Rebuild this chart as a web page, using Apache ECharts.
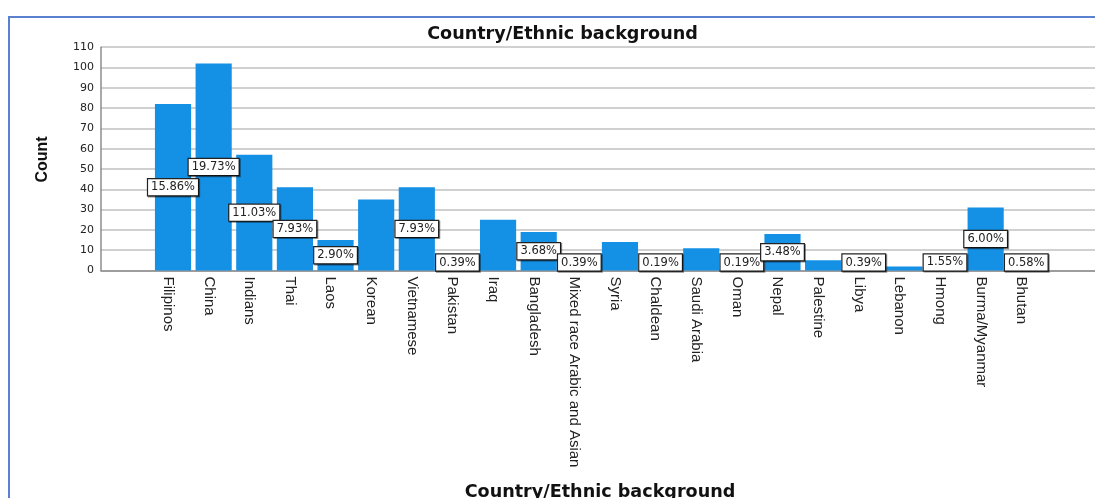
<!DOCTYPE html>
<html>
<head>
<meta charset="utf-8">
<script src="https://cdn.jsdelivr.net/npm/echarts@6/dist/echarts.min.js"></script>
<style>
html,body{margin:0;padding:0;background:#fff;}
#chart{width:1095px;height:498px;}
</style>
</head>
<body>
<div id="chart"></div>
<script>
// ---- data ----
const categories = ["Filipinos","China","Indians","Thai","Laos","Korean","Vietnamese","Pakistan","Iraq","Bangladesh","Mixed race Arabic and Asian","Syria","Chaldean","Saudi Arabia","Oman","Nepal","Palestine","Libya","Lebanon","Hmong","Burma/Myanmar","Bhutan"];
const counts = [82,102,57,41,15,35,41,2,25,19,2,14,1,11,1,18,5,2,2,8,31,3];
// categories whose percentage label is visible in the original
const labelled = ["Filipinos","China","Indians","Thai","Laos","Vietnamese","Pakistan","Bangladesh","Mixed race Arabic and Asian","Chaldean","Oman","Nepal","Libya","Hmong","Burma/Myanmar","Bhutan"];
const yTicks = [0,10,20,30,40,50,60,70,80,90,100,110];
const titleText = "Country/Ethnic background";
const xName = "Country/Ethnic background";
const yName = "Count";

const total = counts.reduce((a,b)=>a+b,0);
const yMax = yTicks[yTicks.length-1];
const yStep = yTicks[1]-yTicks[0];

const chart = echarts.init(document.getElementById('chart'));

const barData = counts.map((v,i)=>{
  const show = labelled.indexOf(categories[i]) >= 0;
  const small = v < 8;
  return {
    value: v,
    label: {
      show: show,
      position: small ? 'insideBottom' : 'inside',
      distance: 0
    }
  };
});

const grid = {top: 47.2, bottom: 227.5};

chart.setOption({
  animation: false,
  backgroundColor: '#ffffff',
  grid: [
    {left: 101, right: 0, top: grid.top, bottom: grid.bottom, containLabel:false, outerBoundsMode:'none'},
    {left: 152.7, right: 48.4, top: grid.top, bottom: grid.bottom, containLabel:false, outerBoundsMode:'none'}
  ],
  xAxis: [
    {gridIndex:0, type:'value', min:0, max:1, axisLine:{show:true, onZero:false, lineStyle:{color:'#8c8c8c', width:1.5}},
     axisTick:{show:false}, axisLabel:{show:false}, splitLine:{show:false}},
    {gridIndex:1, type:'category', data: categories, axisLine:{show:false}, axisTick:{show:false},
     axisLabel:{rotate:-90, interval:0, margin:6, fontFamily:'"Liberation Sans",Arial,sans-serif',
       fontSize:15, color:'#222', verticalAlign:'top', lineHeight:10, hideOverlap:false}}
  ],
  yAxis: [
    {gridIndex:0, type:'value', min:0, max:yMax, interval:yStep,
     axisLine:{show:true, lineStyle:{color:'#8c8c8c', width:1.5}}, axisTick:{show:false},
     axisLabel:{margin:7, fontFamily:'"DejaVu Sans",sans-serif', fontSize:11, color:'#222'},
     splitLine:{show:true, lineStyle:{color:'#d0d0d0', width:2}}},
    {gridIndex:1, type:'value', min:0, max:yMax, interval:yStep, show:false, splitLine:{show:false}}
  ],
  series: [{
    type:'bar', xAxisIndex:1, yAxisIndex:1, data: barData,
    barCategoryGap:'11%',
    itemStyle:{color:'#1490e5'},
    labelLayout:{hideOverlap:false},
    label:{
      formatter: p => (p.value/total*100).toFixed(2)+'%',
      fontFamily:'"DejaVu Sans",sans-serif', fontSize:11.5, color:'#222',
      backgroundColor:'#fff', borderColor:'#222', borderWidth:1.2,
      padding:[2,3,1,3], lineHeight:13,
      shadowColor:'rgba(0,0,0,0.45)', shadowOffsetX:1, shadowOffsetY:1, shadowBlur:0
    }
  }],
  graphic: [
    {type:'rect', shape:{x:9, y:17, width:1300, height:700}, style:{fill:'none', stroke:'#5b80cf', lineWidth:2}, silent:true, z:-1},
    {type:'text', x:562.5, y:34, style:{text:titleText, fontFamily:'"DejaVu Sans",sans-serif', fontWeight:'bold', fontSize:17.6, fill:'#111', align:'center', verticalAlign:'middle'}},
    {type:'text', x:600, y:492, style:{text:xName, fontFamily:'"DejaVu Sans",sans-serif', fontWeight:'bold', fontSize:17.6, fill:'#111', align:'center', verticalAlign:'middle'}},
    {type:'text', x:43, y:159.5, rotation:Math.PI/2, style:{text:yName, fontFamily:'"Liberation Sans",Arial,sans-serif', fontWeight:'bold', fontSize:16, fill:'#111', align:'center', verticalAlign:'middle'}}
  ]
});
</script>
</body>
</html>
